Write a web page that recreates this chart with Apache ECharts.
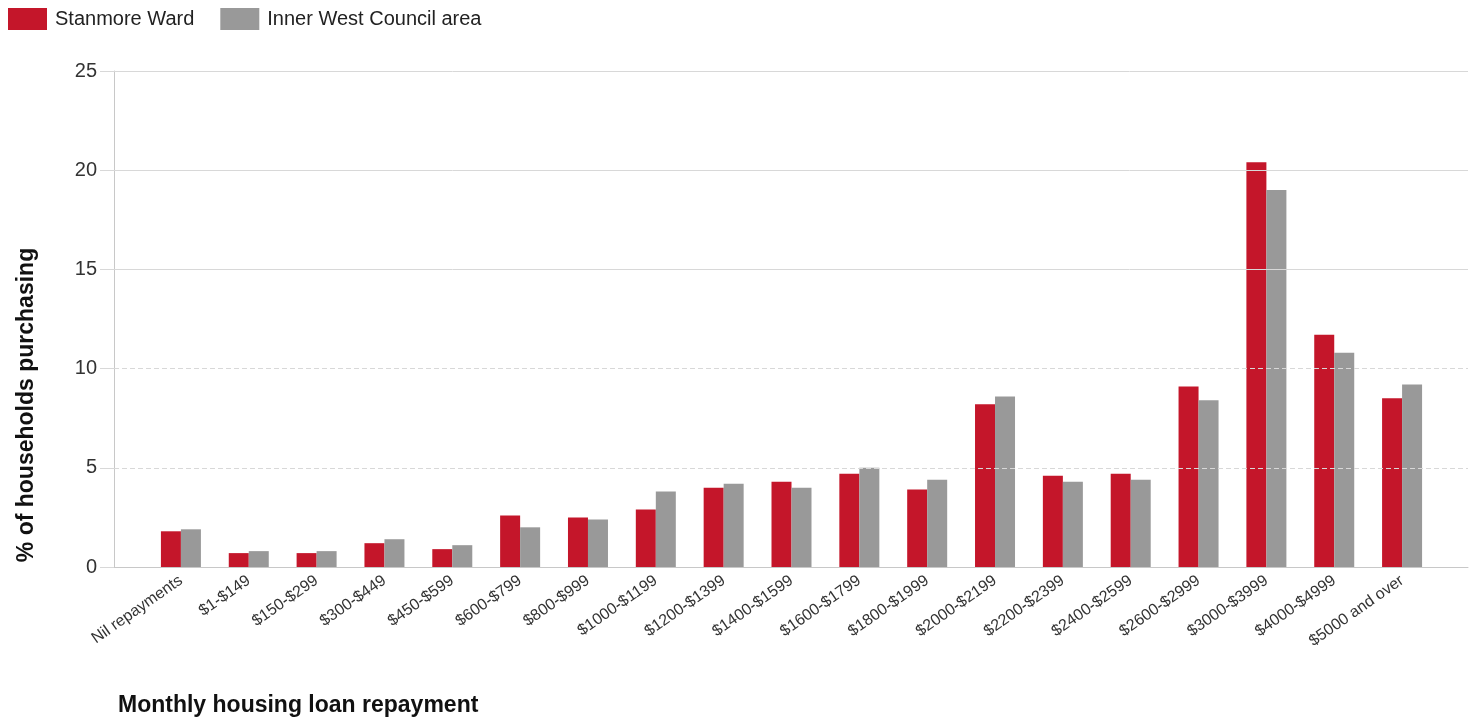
<!DOCTYPE html>
<html>
<head>
<meta charset="utf-8">
<title>Monthly housing loan repayment</title>
<script src="https://cdn.jsdelivr.net/npm/echarts@6/dist/echarts.min.js"></script>
<style>
  html, body { margin: 0; padding: 0; background: #fff; }
  #chart { width: 1478px; height: 722px; }
</style>
</head>
<body>
<div id="chart"></div>
<script>
// categories
const categories = [
  'Nil repayments', '$1-$149', '$150-$299', '$300-$449', '$450-$599',
  '$600-$799', '$800-$999', '$1000-$1199', '$1200-$1399', '$1400-$1599',
  '$1600-$1799', '$1800-$1999', '$2000-$2199', '$2200-$2399', '$2400-$2599',
  '$2600-$2999', '$3000-$3999', '$4000-$4999', '$5000 and over'
]
// % of households purchasing
const stanmore = [1.8, 0.7, 0.7, 1.2, 0.9, 2.6, 2.5, 2.9, 4.0, 4.3, 4.7, 3.9, 8.2, 4.6, 4.7, 9.1, 20.4, 11.7, 8.5]
const innerWest = [1.9, 0.8, 0.8, 1.4, 1.1, 2.0, 2.4, 3.8, 4.2, 4.0, 5.0, 4.4, 8.6, 4.3, 4.4, 8.4, 19.0, 10.8, 9.2]
const yTicks = [0, 5, 10, 15, 20, 25]
const solidLines = [15, 20, 25]

const font = '"Liberation Sans", Arial, sans-serif'
const myChart = echarts.init(document.getElementById('chart'))

const gridLines = yTicks.filter(v => v > 0).map(v => ({
  yAxis: v,
  lineStyle: {
    color: '#d8d8d8',
    width: 1,
    type: solidLines.indexOf(v) >= 0 ? 'solid' : [5, 3]
  }
}))

myChart.setOption({
  animation: false,
  legend: {
    left: 8,
    top: 8,
    padding: 0,
    itemWidth: 39,
    itemHeight: 22,
    itemGap: 26,
    icon: 'rect',
    textStyle: {
      fontFamily: font,
      fontSize: 20,
      color: '#222',
      padding: [0, 0, 0, 3]
    },
    data: ['Stanmore Ward', 'Inner West Council area']
  },
  // grid 0: y axis and gridlines over the full width, grid 1: the bars
  grid: [
    { left: 114, right: 10, top: 71, bottom: 155 },
    { left: 147, right: 42, top: 71, bottom: 155 }
  ],
  xAxis: [
    {
      gridIndex: 0,
      type: 'category',
      data: [''],
      axisLine: { lineStyle: { color: '#c8c8c8' } },
      axisTick: { show: false },
      axisLabel: { show: false }
    },
    {
      gridIndex: 1,
      type: 'category',
      data: categories,
      axisLine: { show: false },
      axisTick: { alignWithLabel: true, length: 5, lineStyle: { color: '#d8c8c8' } },
      axisLabel: {
        interval: 0,
        rotate: 35,
        margin: 12,
        fontFamily: font,
        fontSize: 16,
        color: '#333'
      }
    }
  ],
  yAxis: [
    {
      gridIndex: 0,
      type: 'value',
      min: 0,
      max: 25,
      interval: 5,
      axisLine: { show: true, lineStyle: { color: '#c8c8c8' } },
      axisTick: { show: true, length: 14, lineStyle: { color: '#d8d8d8' } },
      axisLabel: { margin: 17, fontFamily: font, fontSize: 20, color: '#333' },
      splitLine: { show: false }
    },
    {
      gridIndex: 1,
      type: 'value',
      min: 0,
      max: 25,
      show: false,
      splitLine: { show: false }
    }
  ],
  graphic: [
    {
      type: 'text',
      x: 27,
      y: 405,
      rotation: Math.PI / 2,
      style: {
        text: '% of households purchasing',
        font: 'bold 23px ' + font,
        fill: '#111',
        align: 'center',
        verticalAlign: 'middle'
      }
    },
    {
      type: 'text',
      left: 118,
      top: 694,
      style: {
        text: 'Monthly housing loan repayment',
        font: 'bold 23px ' + font,
        fill: '#111'
      }
    }
  ],
  series: [
    {
      type: 'line',
      xAxisIndex: 0,
      yAxisIndex: 0,
      data: [],
      silent: true,
      markLine: {
        silent: true,
        symbol: 'none',
        label: { show: false },
        data: gridLines
      }
    },
    {
      name: 'Stanmore Ward',
      type: 'bar',
      xAxisIndex: 1,
      yAxisIndex: 1,
      barWidth: 20,
      barGap: '0%',
      itemStyle: { color: '#c4162a' },
      data: stanmore
    },
    {
      name: 'Inner West Council area',
      type: 'bar',
      xAxisIndex: 1,
      yAxisIndex: 1,
      barWidth: 20,
      barGap: '0%',
      itemStyle: { color: '#999999' },
      data: innerWest
    }
  ]
})
</script>
</body>
</html>
